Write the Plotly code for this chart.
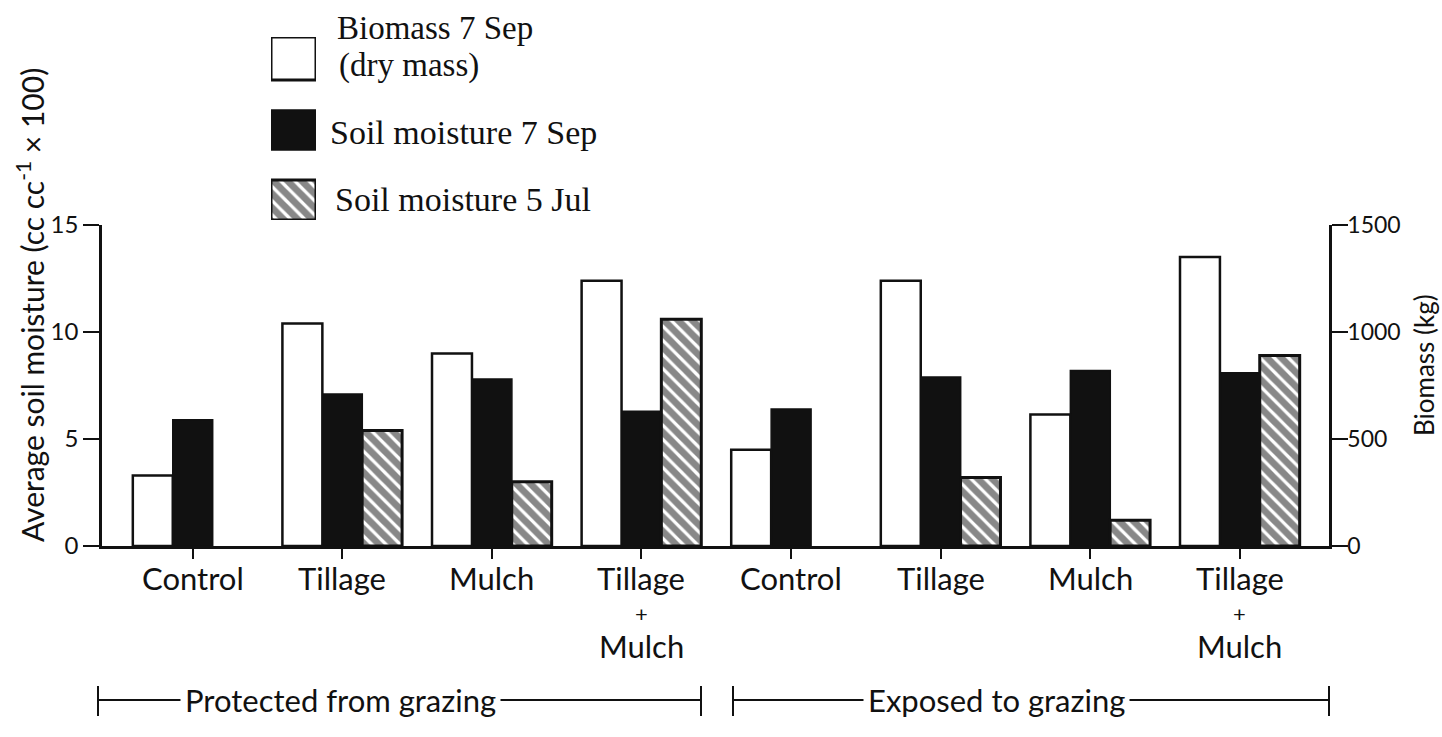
import plotly.graph_objects as go

# Treatments, protected (first four) then exposed (last four) to grazing
treatments = ["Control", "Tillage", "Mulch", "Tillage + Mulch",
              "Control", "Tillage", "Mulch", "Tillage + Mulch"]
biomass_sep7 = [330, 1040, 900, 1240, 450, 1240, 615, 1350]        # kg, dry mass
moisture_sep7 = [5.9, 7.1, 7.8, 6.3, 6.4, 7.9, 8.2, 8.1]          # cc cc-1 x 100
moisture_jul5 = [None, 5.4, 3.0, 10.6, None, 3.2, 1.2, 8.9]        # cc cc-1 x 100
grazing_groups = ["Protected from grazing", "Exposed to grazing"]

positions = list(range(len(treatments)))

SANS = "Lato, 'DejaVu Sans', sans-serif"
SERIF = "'Liberation Serif', 'DejaVu Serif', serif"
INK = "#111111"

# page geometry in pixels (used for placing the decorations)
W, H = 1442, 737
ML, MR, MT, MB = 102, 113, 10, 191
PW, PH = W - ML - MR, H - MT - MB
PLOT_TOP = 225


def px(x):
    return (x - ML) / PW


def py(y):
    return (H - MB - y) / PH


HATCH = dict(shape="\\", fgcolor=INK, bgcolor="white", size=10, solidity=0.68)

BW = 0.267
fig = go.Figure()
fig.add_trace(go.Bar(
    x=positions, y=biomass_sep7, yaxis="y2", width=BW, offset=-0.4,
    marker=dict(color="white", line=dict(color=INK, width=2.5)),
    showlegend=False, name="Biomass 7 Sep"))
fig.add_trace(go.Bar(
    x=positions, y=moisture_sep7, width=BW, offset=-0.133,
    marker=dict(color=INK, line=dict(color=INK, width=1.5)),
    showlegend=False, name="Soil moisture 7 Sep"))
fig.add_trace(go.Bar(
    x=positions, y=moisture_jul5, width=BW, offset=0.133,
    marker=dict(color="white", line=dict(color=INK, width=3), pattern=HATCH),
    showlegend=False, name="Soil moisture 5 Jul"))

# Legend swatches: a small auxiliary axis (pixel units) holding three square bars
sw_style = [
    dict(color="white", line=dict(color=INK, width=3)),
    dict(color=INK, line=dict(color=INK, width=1.5)),
    dict(color="white", line=dict(color=INK, width=3), pattern=HATCH),
]
sw_base = [140, 70, 0]
sw_height = [43, 40, 40]
for st, b, h in zip(sw_style, sw_base, sw_height):
    fig.add_trace(go.Bar(x=[0], y=[h], base=[b], width=[1.0], marker=st,
                         xaxis="x3", yaxis="y3", showlegend=False, hoverinfo="skip"))

fig.update_layout(
    width=W, height=H,
    margin=dict(l=ML, r=MR, t=MT, b=MB, pad=0, autoexpand=False),
    paper_bgcolor="white", plot_bgcolor="white",
    barmode="overlay", showlegend=False,
    font=dict(family=SANS, size=23, color=INK),
    xaxis=dict(range=[-0.606, 7.596], tickvals=positions, showticklabels=False,
               showline=True, linecolor=INK, linewidth=2.5, ticks="outside",
               ticklen=10, tickwidth=2, tickcolor=INK, showgrid=False,
               zeroline=False),
    yaxis=dict(domain=[0, py(PLOT_TOP)], range=[0, 15], tickvals=[0, 5, 10, 15],
               showline=True, linecolor=INK, linewidth=2.5, ticks="outside",
               ticklen=16, tickwidth=2, tickcolor=INK, showgrid=False,
               zeroline=False, tickfont=dict(family=SANS, size=24)),
    yaxis2=dict(range=[0, 1500], tickvals=[0, 500, 1000, 1500], overlaying="y",
                side="right", showline=True, linecolor=INK, linewidth=2.5,
                ticks="outside", ticklen=16, tickwidth=2, tickcolor=INK,
                ticklabelstandoff=-5, showgrid=False, zeroline=False,
                tickfont=dict(family=SANS, size=23)),
    xaxis3=dict(domain=[px(271), px(316)], range=[-0.5, 0.5], visible=False,
                fixedrange=True, anchor="y3"),
    yaxis3=dict(domain=[py(220), py(37)], range=[0, 183], visible=False,
                fixedrange=True, anchor="x3"),
)

annotations = [
    # axis titles
    dict(text="Average soil moisture (cc cc<sup>-1</sup> × 100)", x=px(30), y=py(305),
         xanchor="center", textangle=-90, font=dict(family=SANS, size=30)),
    dict(text="Biomass (kg)", x=px(1424), y=py(365), xanchor="center", textangle=-90,
         font=dict(family=SANS, size=26)),
    # legend labels
    dict(text="Biomass 7 Sep", x=px(335), y=py(28), xanchor="left",
         font=dict(family=SERIF, size=33)),
    dict(text="(dry mass)", x=px(337), y=py(65), xanchor="left",
         font=dict(family=SERIF, size=33)),
    dict(text="Soil moisture 7 Sep", x=px(328), y=py(132), xanchor="left",
         font=dict(family=SERIF, size=34)),
    dict(text="Soil moisture 5 Jul", x=px(333), y=py(200), xanchor="left",
         font=dict(family=SERIF, size=34)),
    # grazing group captions
    dict(text=grazing_groups[0], x=px(340), y=py(700), xanchor="center",
         bgcolor="white", borderpad=4, font=dict(family=SANS, size=31)),
    dict(text=grazing_groups[1], x=px(996), y=py(700), xanchor="center",
         bgcolor="white", borderpad=4, font=dict(family=SANS, size=31)),
]
for a in annotations:
    a.update(xref="paper", yref="paper", yanchor="middle", showarrow=False)

# treatment names under the axis; combined treatments stack on three lines
for pos, name in zip(positions, treatments):
    parts = name.split(" + ")
    annotations.append(dict(text=parts[0], x=pos, y=py(578)))
    if len(parts) > 1:
        annotations.append(dict(text="+", x=pos, y=py(613),
                                font=dict(family=SANS, size=22)))
        annotations.append(dict(text=parts[1], x=pos, y=py(646)))
for a in annotations[8:]:
    a.update(xref="x", yref="paper", xanchor="center", yanchor="middle",
             showarrow=False)
    a.setdefault("font", dict(family=SANS, size=31))
fig.update_layout(annotations=annotations)

# bracket lines under each grazing group
shapes = []
for x0, x1 in [(98, 701), (733, 1329)]:
    shapes.append(dict(type="line", x0=px(x0), x1=px(x1), y0=py(700), y1=py(700)))
    for xe in (x0, x1):
        shapes.append(dict(type="line", x0=px(xe), x1=px(xe), y0=py(686), y1=py(716)))
for s in shapes:
    s.update(xref="paper", yref="paper", line=dict(color=INK, width=2), layer="below")
fig.update_layout(shapes=shapes)

fig.write_html("out.html")
